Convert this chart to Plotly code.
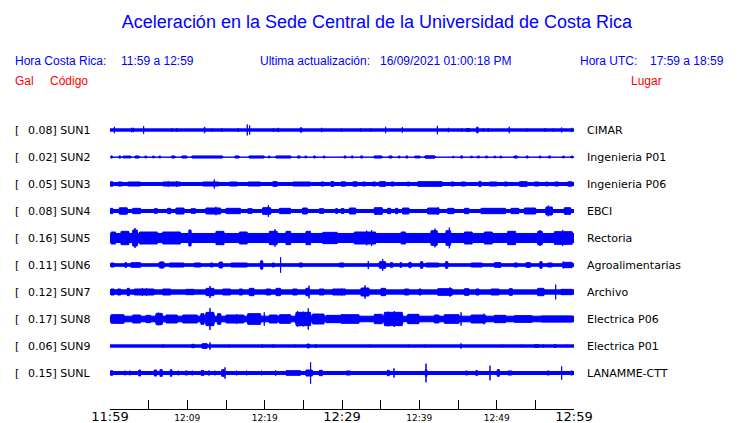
import plotly.graph_objects as go

# ---------------- data ----------------
stations = ["SUN1", "SUN2", "SUN3", "SUN4", "SUN5", "SUN6", "SUN7", "SUN8", "SUN9", "SUNL"]
gal_peak = [0.08, 0.02, 0.05, 0.08, 0.16, 0.11, 0.12, 0.17, 0.06, 0.15]
places = ["CIMAR", "Ingenieria P01", "Ingenieria P06", "EBCI", "Rectoria",
          "Agroalimentarias", "Archivo", "Electrica P06", "Electrica P01", "LANAMME-CTT"]
# background noise half-amplitude (Gal) of each record
baseline_gal = [0.017, 0.003, 0.022, 0.022, 0.068, 0.019, 0.032, 0.042, 0.017, 0.022]

# minutes after 11:59 of the time axis
tick_minutes = [0, 5, 10, 15, 20, 25, 30, 35, 40, 45, 50, 55, 60]
tick_labels = ["11:59", "", "12:09", "", "12:19", "", "12:29", "", "12:39", "", "12:49", "", "12:59"]
big_labels = ["11:59", "12:29", "12:59"]

# bursts / spikes read from the records: (start minute, end minute, half amplitude in Gal)
ev_sun1 = [(0.56, 0.56, 0.048), (2.80, 2.80, 0.033), (3.01, 3.01, 0.033), (4.35, 4.35, 0.057),
           (7.97, 7.97, 0.027), (8.62, 8.62, 0.027), (12.19, 12.28, 0.042), (13.14, 13.14, 0.022),
           (14.44, 14.44, 0.027), (16.59, 16.59, 0.027), (17.75, 17.75, 0.082), (18.06, 18.06, 0.068),
           (21.12, 21.12, 0.027), (21.76, 21.76, 0.033), (24.6, 24.8, 0.033), (27.37, 27.37, 0.033),
           (29.95, 29.95, 0.022), (32.41, 32.41, 0.022), (33.71, 33.71, 0.025), (35.64, 35.64, 0.048),
           (37.80, 37.80, 0.042), (42.33, 42.33, 0.063), (43.75, 43.75, 0.033), (45.47, 45.47, 0.025),
           (46.0, 46.6, 0.022), (47.4, 47.6, 0.042), (48.27, 48.27, 0.027), (48.92, 48.92, 0.027),
           (51.63, 51.63, 0.048), (53.88, 53.88, 0.022), (56.25, 56.25, 0.027), (57.32, 57.32, 0.022),
           (58.40, 58.40, 0.037), (59.70, 59.70, 0.033)]
ev_sun2 = [(0.13, 0.30, 0.016), (1.16, 1.38, 0.016), (1.59, 2.80, 0.014), (3.14, 3.88, 0.016),
           (4.52, 4.74, 0.014), (5.51, 5.73, 0.014), (6.33, 6.55, 0.014), (7.88, 8.49, 0.016),
           (9.18, 10.04, 0.016), (10.47, 14.65, 0.016), (16.07, 16.81, 0.016), (17.88, 20.04, 0.016),
           (20.47, 20.68, 0.014), (21.33, 23.49, 0.016), (24.26, 24.56, 0.016), (25.21, 25.43, 0.014),
           (26.29, 26.59, 0.016), (27.58, 27.80, 0.014), (30.26, 30.52, 0.014), (31.16, 31.46, 0.016),
           (32.41, 32.67, 0.016), (34.05, 35.26, 0.016), (35.99, 36.55, 0.016), (37.28, 37.50, 0.014),
           (38.27, 38.49, 0.016), (39.31, 40.2, 0.014), (40.6, 42.15, 0.018), (44.31, 44.48, 0.012),
           (45.34, 45.60, 0.016), (46.64, 46.85, 0.012), (47.50, 47.76, 0.014), (48.57, 48.79, 0.014),
           (49.65, 49.87, 0.012), (50.43, 50.64, 0.014), (52.15, 52.80, 0.016), (53.79, 54.09, 0.016),
           (55.51, 55.73, 0.014), (56.68, 56.98, 0.014), (58.53, 58.75, 0.014), (59.57, 59.91, 0.014)]
ev_sun3 = [(0.0, 0.43, 0.035), (0.86, 1.72, 0.03), (2.15, 4.09, 0.03), (6.68, 9.26, 0.03),
           (7.54, 7.54, 0.04), (8.62, 8.62, 0.045), (11.85, 14.22, 0.03), (13.49, 13.49, 0.068),
           (15.30, 16.59, 0.03), (17.67, 19.61, 0.03), (20.9, 21.76, 0.035), (23.49, 26.07, 0.03),
           (27.15, 27.8, 0.03), (28.44, 29.09, 0.035), (29.74, 30.6, 0.032), (31.25, 32.11, 0.032),
           (32.54, 33.19, 0.03), (33.83, 34.48, 0.03), (34.7, 35.77, 0.035), (36.2, 36.85, 0.03),
           (38.36, 38.79, 0.03), (39.65, 43.1, 0.035), (43.96, 44.61, 0.03), (45.26, 46.12, 0.03),
           (47.63, 48.06, 0.04), (48.92, 50.21, 0.03), (50.86, 51.51, 0.03), (52.8, 54.09, 0.035),
           (54.74, 55.6, 0.03), (56.25, 56.68, 0.03), (57.32, 58.19, 0.03), (59.05, 59.91, 0.032)]
ev_sun4 = [(0.0, 0.43, 0.04), (1.07, 2.37, 0.048), (2.8, 4.09, 0.04), (5.6, 6.25, 0.035),
           (7.32, 7.97, 0.04), (8.4, 9.69, 0.045), (10.34, 11.2, 0.035), (12.28, 14.44, 0.045),
           (13.7, 13.7, 0.063), (14.87, 17.02, 0.04), (17.67, 18.53, 0.035), (19.61, 20.9, 0.05),
           (20.47, 20.47, 0.087), (21.76, 23.49, 0.04), (24.78, 25.64, 0.045), (26.93, 27.8, 0.035),
           (29.09, 29.52, 0.035), (29.74, 30.39, 0.035), (30.82, 31.9, 0.045), (34.05, 35.34, 0.05),
           (35.77, 36.42, 0.04), (36.85, 37.28, 0.04), (37.71, 38.79, 0.045), (40.95, 42.67, 0.045),
           (42.45, 42.45, 0.055), (43.53, 44.61, 0.04), (45.69, 46.55, 0.04), (47.84, 51.29, 0.04),
           (51.72, 53.01, 0.04), (53.45, 55.17, 0.045), (56.25, 57.32, 0.06), (56.68, 56.68, 0.08),
           (58.62, 59.7, 0.05)]
ev_sun5 = [(0.0, 0.86, 0.09), (1.29, 2.58, 0.1), (2.8, 3.66, 0.12), (3.23, 3.23, 0.15),
           (3.66, 6.25, 0.09), (6.68, 9.26, 0.09), (10.12, 10.56, 0.12), (13.57, 14.87, 0.1),
           (16.59, 17.88, 0.09), (20.47, 21.76, 0.1), (21.33, 21.33, 0.13), (22.62, 23.49, 0.1),
           (25.21, 26.07, 0.1), (27.37, 29.52, 0.085), (31.46, 34.48, 0.09), (33.19, 33.19, 0.11),
           (33.83, 33.83, 0.12), (37.5, 38.36, 0.09), (41.38, 42.45, 0.11), (42.02, 42.02, 0.14),
           (43.32, 44.18, 0.11), (43.88, 43.88, 0.155), (45.69, 46.98, 0.09), (48.27, 49.57, 0.09),
           (51.29, 52.58, 0.1), (55.17, 56.03, 0.1), (55.6, 55.6, 0.12), (57.32, 59.91, 0.095),
           (58.53, 58.53, 0.12)]
ev_sun6 = [(0.0, 0.65, 0.03), (1.94, 2.15, 0.035), (2.58, 4.09, 0.035), (6.25, 7.11, 0.045),
           (6.7, 6.7, 0.05), (7.54, 9.69, 0.03), (10.77, 11.85, 0.03), (12.93, 13.36, 0.03),
           (14.0, 14.65, 0.045), (15.5, 17.88, 0.03), (19.39, 19.82, 0.06), (19.61, 19.61, 0.075),
           (20.9, 21.33, 0.03), (22.06, 22.06, 0.115), (24.35, 25.0, 0.03), (29.52, 30.38, 0.03),
           (33.4, 33.4, 0.06), (34.7, 35.77, 0.05), (35.26, 35.26, 0.09), (36.2, 36.64, 0.035),
           (37.5, 37.71, 0.035), (38.58, 39.01, 0.04), (40.08, 40.52, 0.05), (40.73, 42.67, 0.03),
           (43.32, 43.75, 0.05), (46.55, 48.27, 0.03), (49.57, 50.64, 0.035), (50.43, 50.43, 0.045),
           (52.15, 52.8, 0.03), (53.66, 54.52, 0.035), (55.51, 55.94, 0.05), (56.46, 57.32, 0.03),
           (58.4, 59.91, 0.04), (58.62, 58.62, 0.05)]
ev_sun7 = [(0.0, 0.65, 0.045), (0.86, 1.51, 0.045), (2.15, 2.58, 0.055), (3.01, 5.82, 0.045),
           (4.18, 4.18, 0.06), (4.74, 4.74, 0.055), (6.68, 7.97, 0.045), (9.69, 10.99, 0.04),
           (12.28, 13.57, 0.055), (12.93, 12.93, 0.09), (14.44, 15.73, 0.045), (16.59, 17.24, 0.045),
           (17.88, 18.75, 0.055), (18.3, 18.3, 0.06), (20.04, 20.9, 0.045), (21.33, 22.19, 0.055),
           (23.49, 24.35, 0.045), (25.21, 25.86, 0.055), (25.73, 25.73, 0.095), (26.93, 27.8, 0.045),
           (28.66, 30.17, 0.045), (29.74, 30.6, 0.045), (32.33, 33.62, 0.06), (32.97, 32.97, 0.1),
           (34.91, 35.77, 0.055), (37.93, 38.79, 0.045), (39.87, 40.3, 0.045), (42.24, 44.39, 0.05),
           (43.96, 43.96, 0.07), (45.69, 46.55, 0.05), (47.2, 47.84, 0.045), (49.14, 50.43, 0.045),
           (51.51, 52.15, 0.05), (55.17, 56.25, 0.055), (57.63, 57.63, 0.11), (58.19, 59.91, 0.04)]
ev_sun8 = [(0.0, 1.94, 0.065), (1.07, 1.07, 0.075), (2.8, 4.09, 0.06), (4.52, 5.39, 0.055),
           (5.82, 6.89, 0.085), (6.25, 6.25, 0.095), (7.11, 8.83, 0.06), (9.26, 11.42, 0.06),
           (11.64, 12.28, 0.08), (12.28, 13.57, 0.1), (12.93, 12.93, 0.165), (13.79, 14.44, 0.08),
           (14.87, 17.45, 0.06), (16.37, 16.37, 0.075), (17.67, 19.61, 0.08), (19.18, 19.18, 0.09),
           (19.95, 19.95, 0.1), (20.47, 21.76, 0.06), (21.76, 23.49, 0.065), (23.92, 26.07, 0.1),
           (24.26, 24.26, 0.12), (24.99, 24.99, 0.11), (25.64, 25.64, 0.16), (26.07, 27.8, 0.075),
           (27.8, 30.38, 0.055), (29.74, 32.33, 0.065), (34.05, 35.34, 0.07), (35.34, 37.93, 0.1),
           (35.99, 35.99, 0.11), (36.77, 36.77, 0.12), (37.28, 37.28, 0.1), (38.36, 40.08, 0.07),
           (41.81, 42.67, 0.06), (43.1, 45.26, 0.065), (45.39, 45.39, 0.1), (46.55, 48.7, 0.06),
           (48.36, 48.36, 0.08), (49.57, 51.29, 0.055), (52.15, 54.74, 0.05), (55.6, 59.91, 0.045)]
ev_sun9 = [(6.89, 6.89, 0.025), (10.47, 10.99, 0.025), (11.76, 12.71, 0.035), (12.93, 12.93, 0.055),
           (15.38, 15.38, 0.02), (19.7, 19.7, 0.025), (21.12, 21.12, 0.025), (23.92, 23.92, 0.02),
           (25.43, 25.86, 0.03), (26.59, 26.59, 0.03), (33.62, 33.62, 0.02), (38.58, 38.58, 0.02),
           (40.73, 40.73, 0.02), (45.39, 45.39, 0.04), (50.73, 50.73, 0.02), (53.23, 53.23, 0.02),
           (54.74, 55.6, 0.02), (56.03, 56.03, 0.02), (57.32, 57.76, 0.02), (59.05, 59.05, 0.02)]
ev_sunl = [(0.0, 0.43, 0.035), (1.94, 1.94, 0.035), (2.58, 2.58, 0.035), (3.66, 4.0, 0.045),
           (4.52, 4.52, 0.03), (5.73, 6.03, 0.045), (6.46, 6.76, 0.05), (7.75, 8.06, 0.05),
           (8.83, 8.83, 0.035), (9.61, 10.12, 0.03), (10.64, 10.64, 0.035), (11.64, 12.28, 0.035),
           (12.8, 12.8, 0.04), (13.57, 13.57, 0.035), (14.35, 14.87, 0.05), (14.87, 14.87, 0.085),
           (16.37, 16.37, 0.035), (17.67, 17.67, 0.035), (19.61, 19.61, 0.035), (21.42, 21.42, 0.04),
           (22.62, 24.78, 0.035), (25.21, 26.29, 0.045), (25.94, 25.94, 0.16), (26.93, 27.58, 0.04),
           (29.52, 29.52, 0.03), (30.39, 31.25, 0.03), (33.19, 33.19, 0.03), (34.7, 34.7, 0.03),
           (35.77, 36.2, 0.04), (36.72, 36.72, 0.07), (37.71, 37.71, 0.03), (39.65, 39.65, 0.03),
           (40.73, 41.03, 0.05), (40.86, 40.86, 0.14), (42.45, 42.45, 0.03), (43.75, 43.75, 0.03),
           (45.9, 46.33, 0.03), (47.2, 47.63, 0.035), (49.14, 49.14, 0.11), (50.0, 50.43, 0.05),
           (51.29, 52.15, 0.03), (55.17, 55.17, 0.03), (56.46, 56.89, 0.03), (58.4, 58.4, 0.1),
           (59.48, 59.91, 0.03)]
events = [ev_sun1, ev_sun2, ev_sun3, ev_sun4, ev_sun5, ev_sun6, ev_sun7, ev_sun8, ev_sun9, ev_sunl]

header_blue = [("Hora Costa Rica:", 15), ("11:59 a 12:59", 121), ("Ultima actualización:", 260),
               ("16/09/2021 01:00:18 PM", 380), ("Hora UTC:", 580), ("17:59 a 18:59", 650)]
header_red = [("Gal", 15), ("Código", 50)]
header_red_right = ("Lugar", 662)
title_text = "Aceleración en la Sede Central de la Universidad de Costa Rica"

# ---------------- layout constants ----------------
W, H = 740, 423
L, R, T, B = 110, 166, 100, 14
ROW = 0.405          # Gal between record base lines
T_END = 60
BLUE = "#0000ff"
RED = "#ff0000"
n = len(stations)
plot_w = W - L - R
plot_h = H - T - B


def px_x(px):
    return (px - L) / plot_w


def px_y(py):
    return (H - B - py) / plot_h


fig = go.Figure()
for k, name in enumerate(stations):
    y0 = (n - 1 - k) * ROW
    b = baseline_gal[k]
    # every sub-polygon is traced in the same (counter-clockwise) sense so overlaps stay filled
    xs = [0, T_END, T_END, 0, 0, None]
    ys = [y0 - b, y0 - b, y0 + b, y0 + b, y0 - b, None]
    for t0, t1, a in events[k]:
        d = t1 - t0
        if d > 0.3:
            r = min(0.2 * d, 0.15)
            xs += [t0, t0 + r, t1 - r, t1, t1 - r, t0 + r, t0, None]
            ys += [y0, y0 - a, y0 - a, y0, y0 + a, y0 + a, y0, None]
        else:
            xs += [t0, t1, t1, t0, t0, None]
            ys += [y0 - a, y0 - a, y0 + a, y0 + a, y0 - a, None]
    fig.add_trace(go.Scatter(x=xs, y=ys, mode="lines", fill="toself", fillcolor=BLUE,
                             line=dict(color=BLUE, width=1), hoverinfo="skip",
                             showlegend=False, name=name))

ann = []
nopad = dict(borderpad=0, borderwidth=0, showarrow=False)
for k, name in enumerate(stations):
    y0 = (n - 1 - k) * ROW
    f = dict(family="DejaVu Sans", size=11, color="black")
    ann.append(dict(text="[", x=px_x(15), xref="paper", y=y0, yref="y", xanchor="left",
                    yanchor="middle", font=f, **nopad))
    ann.append(dict(text=f"{gal_peak[k]:.2f}] {name}", x=px_x(27.5), xref="paper", y=y0, yref="y",
                    xanchor="left", yanchor="middle", font=f, **nopad))
    ann.append(dict(text=places[k], x=px_x(587), xref="paper", y=y0, yref="y", xanchor="left",
                    yanchor="middle", font=f, **nopad))

for txt, xpx in header_blue:
    ann.append(dict(text=txt, x=px_x(xpx), xref="paper", y=px_y(61), yref="paper",
                    xanchor="left", yanchor="middle",
                    font=dict(family="Liberation Sans", size=12, color=BLUE), **nopad))
for txt, xpx in header_red:
    ann.append(dict(text=txt, x=px_x(xpx), xref="paper", y=px_y(81), yref="paper",
                    xanchor="left", yanchor="middle",
                    font=dict(family="Liberation Sans", size=12, color=RED), **nopad))
ann.append(dict(text=header_red_right[0], x=px_x(header_red_right[1]), xref="paper", y=px_y(81),
                yref="paper", xanchor="right", yanchor="middle",
                font=dict(family="Liberation Sans", size=12, color=RED), **nopad))

ticktext = [f'<span style="font-size:13px">{t}</span>' if t in big_labels else t for t in tick_labels]

fig.update_layout(
    width=W, height=H,
    margin=dict(l=L, r=R, t=T, b=B, autoexpand=False),
    paper_bgcolor="white", plot_bgcolor="white",
    title=dict(text=title_text, x=377 / W, xanchor="center", xref="container",
               y=1 - 22 / H, yanchor="middle", yref="container",
               font=dict(family="Liberation Sans", size=18, color=BLUE)),
    xaxis=dict(range=[0, T_END], tickvals=tick_minutes, ticktext=ticktext,
               ticks="inside", ticklen=9, tickwidth=1, tickcolor="black",
               showline=True, linecolor="black", linewidth=1, showgrid=False,
               zeroline=False, automargin=False, fixedrange=True,
               tickfont=dict(family="DejaVu Sans", size=9, color="black")),
    yaxis=dict(range=[-0.54, (n - 1) * ROW + 0.45], visible=False, fixedrange=True),
    annotations=ann,
    showlegend=False,
)

fig.write_html("out.html", config={"displayModeBar": False},
               post_script="document.body.style.margin='0';document.body.style.overflow='hidden';")
